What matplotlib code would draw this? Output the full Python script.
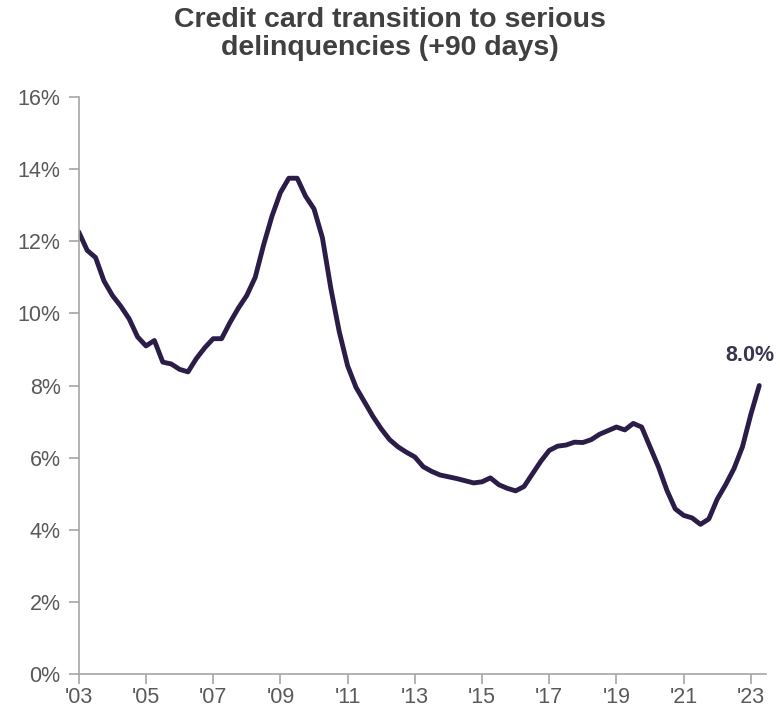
import matplotlib
matplotlib.use("Agg")
import matplotlib.pyplot as plt
import numpy as np

# quarterly transition rate into 90+ day delinquency, 2003Q1 .. 2023Q2
start_year = 2003
rate = [12.26, 11.75, 11.55, 10.9, 10.5, 10.2, 9.85, 9.35, 9.1, 9.25,
        8.65, 8.6, 8.45, 8.38, 8.75, 9.05, 9.3, 9.3, 9.75, 10.15,
        10.5, 11.0, 11.9, 12.7, 13.35, 13.75, 13.75, 13.25, 12.9, 12.1,
        10.7, 9.5, 8.55, 7.95, 7.55, 7.15, 6.8, 6.5, 6.3, 6.15,
        6.02, 5.75, 5.62, 5.52, 5.47, 5.42, 5.36, 5.3, 5.33, 5.44,
        5.25, 5.15, 5.08, 5.2, 5.55, 5.9, 6.2, 6.32, 6.35, 6.43,
        6.42, 6.5, 6.65, 6.75, 6.85, 6.77, 6.95, 6.85, 6.3, 5.75,
        5.1, 4.58, 4.4, 4.33, 4.15, 4.3, 4.85, 5.25, 5.7, 6.3,
        7.2, 8.0]
year_ticks = list(range(2003, 2024, 2))
year_labels = ["'%02d" % (y % 100) for y in year_ticks]
pct_ticks = [0, 2, 4, 6, 8, 10, 12, 14, 16]

t = start_year + np.arange(len(rate)) * 0.25

plt.rcParams['font.family'] = ['Liberation Sans', 'DejaVu Sans']

fig = plt.figure(figsize=(7.8, 7.14), dpi=100)
ax = fig.add_axes([0.101, 0.056, 0.881, 0.808])

ax.plot(t, rate, color="#2b1d48", lw=3.5, solid_joinstyle="round", solid_capstyle="round")

ax.set_xlim(2003, 2023.45)
ax.set_ylim(0, 16)
ax.set_yticks(pct_ticks)
ax.set_yticklabels(["%d%%" % v for v in pct_ticks])
ax.set_xticks(year_ticks)
ax.set_xticklabels(year_labels)

for s in ["top", "right"]:
    ax.spines[s].set_visible(False)
for s in ["left", "bottom"]:
    ax.spines[s].set_color("#a6a6a6")
    ax.spines[s].set_linewidth(1.2)

ax.tick_params(axis="both", colors="#a6a6a6", labelcolor="#595959",
               length=7, width=1.2, labelsize=15.5)
ax.tick_params(axis="x", pad=2)
ax.tick_params(axis="y", pad=6)

ax.annotate("%.1f%%" % rate[-1], xy=(t[-1], rate[-1]), xytext=(-7, 14),
            textcoords="offset points", ha="center", va="bottom",
            fontsize=15.5, fontweight="bold", color="#3a3450")

fig.suptitle("Credit card transition to serious\ndelinquencies (+90 days)",
             x=0.5, y=0.99, fontsize=20.5, fontweight="bold", color="#404040",
             linespacing=1.08)

fig.savefig("out.png", dpi=100)
